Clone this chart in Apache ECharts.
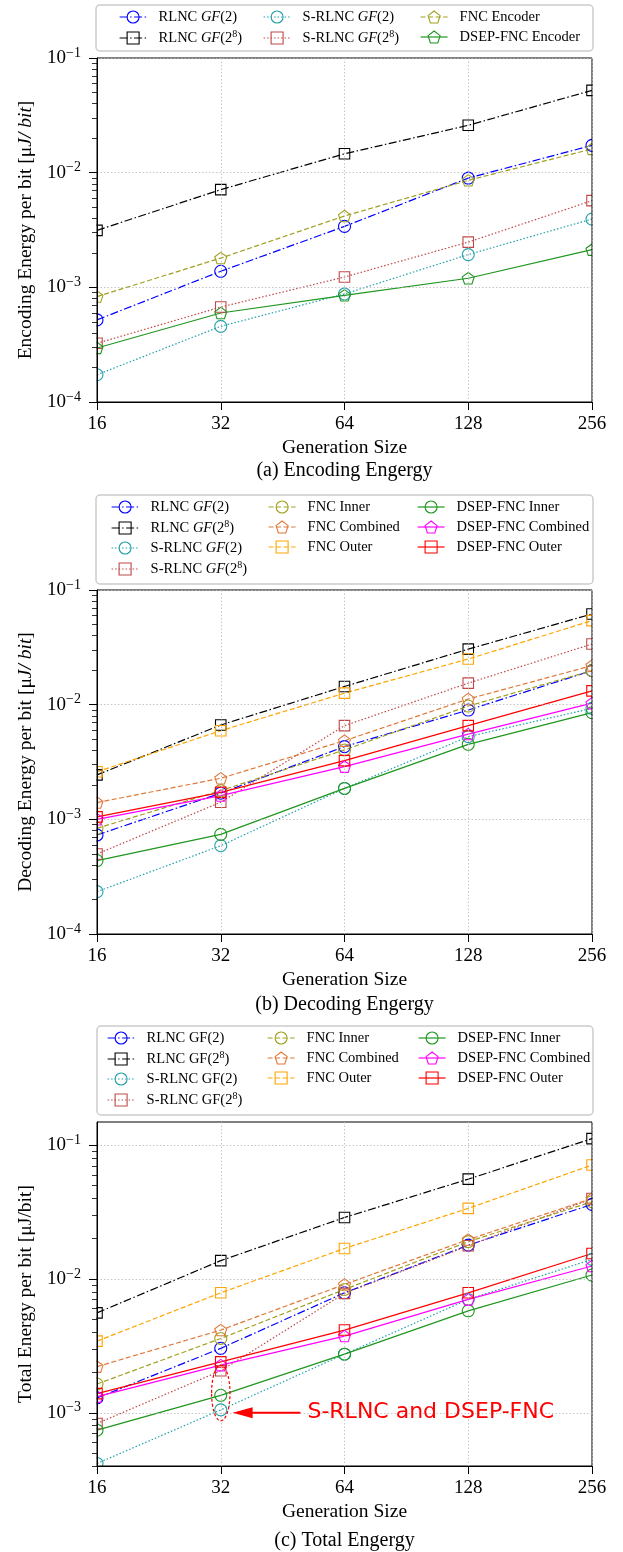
<!DOCTYPE html>
<html>
<head>
<meta charset="utf-8">
<title>Energy per bit</title>
<script src="https://cdn.jsdelivr.net/npm/echarts@6/dist/echarts.min.js"></script>
<style>
  html, body { margin: 0; padding: 0; background: #fff; }
  #chart { width: 623px; height: 1552px; }
</style>
</head>
<body>
<div id="chart"></div>
<script>
// generation sizes (x axis, log2)
const genSizes = [16, 32, 64, 128, 256];

// (a) encoding energy per bit [uJ/bit]
const encRlncGf2     = [5.2e-4, 1.38e-3, 3.40e-3, 8.97e-3, 1.73e-2];
const encRlncGf256   = [3.14e-3, 7.11e-3, 1.46e-2, 2.59e-2, 5.22e-2];
const encSRlncGf2    = [1.73e-4, 4.57e-4, 8.75e-4, 1.93e-3, 3.94e-3];
const encSRlncGf256  = [3.25e-4, 6.73e-4, 1.23e-3, 2.48e-3, 5.70e-3];
const encFnc         = [8.3e-4, 1.80e-3, 4.19e-3, 8.57e-3, 1.61e-2];
const encDsepFnc     = [2.96e-4, 5.97e-4, 8.51e-4, 1.20e-3, 2.13e-3];

// (b) decoding energy per bit
const decRlncGf2      = [7.3e-4, 1.69e-3, 4.31e-3, 8.98e-3, 1.98e-2];
const decRlncGf256    = [2.44e-3, 6.65e-3, 1.44e-2, 3.05e-2, 6.18e-2];
const decSRlncGf2     = [2.34e-4, 5.89e-4, 1.86e-3, 5.26e-3, 9.29e-3];
const decSRlncGf256   = [4.99e-4, 1.41e-3, 6.56e-3, 1.54e-2, 3.38e-2];
const decFncInner     = [8.35e-4, 1.78e-3, 4.03e-3, 9.73e-3, 1.98e-2];
const decFncCombined  = [1.40e-3, 2.28e-3, 4.85e-3, 1.12e-2, 2.19e-2];
const decFncOuter     = [2.60e-3, 5.93e-3, 1.26e-2, 2.50e-2, 5.41e-2];
const decDsepInner    = [4.37e-4, 7.40e-4, 1.86e-3, 4.51e-3, 8.51e-3];
const decDsepCombined = [1.00e-3, 1.61e-3, 2.88e-3, 5.54e-3, 1.03e-2];
const decDsepOuter    = [1.05e-3, 1.72e-3, 3.25e-3, 6.56e-3, 1.32e-2];

// (c) total energy per bit
const totRlncGf2      = [1.29e-3, 3.03e-3, 7.88e-3, 1.79e-2, 3.61e-2];
const totRlncGf256    = [5.58e-3, 1.37e-2, 2.88e-2, 5.57e-2, 0.112];
const totSRlncGf2     = [4.18e-4, 1.05e-3, 2.74e-3, 7.03e-3, 1.40e-2];
const totSRlncGf256   = [8.32e-4, 2.06e-3, 7.80e-3, 1.77e-2, 3.99e-2];
const totFncInner     = [1.64e-3, 3.59e-3, 8.35e-3, 1.90e-2, 3.78e-2];
const totFncCombined  = [2.21e-3, 4.15e-3, 9.10e-3, 1.97e-2, 3.99e-2];
const totFncOuter     = [3.43e-3, 7.88e-3, 1.69e-2, 3.37e-2, 7.10e-2];
const totDsepInner    = [7.41e-4, 1.35e-3, 2.74e-3, 5.78e-3, 1.07e-2];
const totDsepCombined = [1.32e-3, 2.27e-3, 3.74e-3, 7.03e-3, 1.25e-2];
const totDsepOuter    = [1.39e-3, 2.40e-3, 4.15e-3, 7.88e-3, 1.55e-2];

// y ranges and decade ticks
const yRangeA = [1e-4, 1e-1];
const yRangeB = [1e-4, 1e-1];
const yRangeC = [4.0e-4, 0.149];
const decadesAB = [1e-4, 1e-3, 1e-2, 1e-1];
const decadesC = [1e-3, 1e-2, 1e-1];

// annotation in (c)
const noteEllipseX = [30.4, 33.7];
const noteEllipseY = [8.7e-4, 2.27e-3];
const noteArrowX = [50, 34.2];
const noteArrowY = 1e-3;
const noteTextX = 52;
const noteText = 'S-RLNC and DSEP-FNC';

const SERIF = '"Liberation Serif", "DejaVu Serif", serif';
const PENTAGON = 'path://M0,-1L0.951,-0.309L0.588,0.809L-0.588,0.809L-0.951,-0.309Z';
const DASHDOT = [8, 2.5, 1.5, 2.5];
const DASHED = [5, 2.5];
const DOTTED = [1.5, 2];

const OLIVE = '#a0a020';
const GREEN = '#1f961f';

const look = {
  'RLNC GF(2)':        { color: '#0000ff', dash: DASHDOT, symbol: 'circle', size: 12 },
  'RLNC GF(2^8)':      { color: '#000000', dash: DASHDOT, symbol: 'rect', size: 10.5 },
  'S-RLNC GF(2)':      { color: '#20a0a8', dash: DOTTED, symbol: 'circle', size: 12 },
  'S-RLNC GF(2^8)':    { color: '#c04848', dash: DOTTED, symbol: 'rect', size: 10.5 },
  'FNC Encoder':       { color: OLIVE, dash: DASHED, symbol: PENTAGON, size: 12 },
  'DSEP-FNC Encoder':  { color: GREEN, dash: 'solid', symbol: PENTAGON, size: 12 },
  'FNC Inner':         { color: OLIVE, dash: DASHED, symbol: 'circle', size: 12 },
  'FNC Combined':      { color: '#e07838', dash: DASHED, symbol: PENTAGON, size: 12 },
  'FNC Outer':         { color: '#ffa500', dash: DASHED, symbol: 'rect', size: 10.5 },
  'DSEP-FNC Inner':    { color: GREEN, dash: 'solid', symbol: 'circle', size: 12 },
  'DSEP-FNC Combined': { color: '#ff00ff', dash: 'solid', symbol: PENTAGON, size: 12 },
  'DSEP-FNC Outer':    { color: '#ff0000', dash: 'solid', symbol: 'rect', size: 10.5 }
};

const gridLine = { color: '#b8b8b8', width: 0.8, type: [1.5, 2] };

// plot boxes (pixels)
const boxes = [
  { left: 97, width: 495, top: 58, height: 344 },
  { left: 97, width: 495, top: 590, height: 344 },
  { left: 97, width: 495, top: 1122, height: 344 }
];

function minorTicks(range) {
  const out = [];
  for (let e = Math.floor(Math.log10(range[0])); e < Math.ceil(Math.log10(range[1])); e++) {
    for (let m = 2; m <= 9; m++) {
      const v = m * Math.pow(10, e);
      if (v >= range[0] && v <= range[1]) out.push(v);
    }
  }
  return out;
}

function powLabel(v) {
  const e = Math.round(Math.log10(v));
  return '10{sup|\u2212' + Math.abs(e) + '}';
}

function legendText(name, italic) {
  let s = name.split('/')[1].replace('^8', '{sup|8}');
  if (italic) s = s.replace('GF', '{it|GF}');
  return s;
}

function makeSeries(panel, idx, name, values) {
  const st = look[name];
  return {
    name: panel + '/' + name,
    type: 'line',
    xAxisIndex: idx,
    yAxisIndex: idx * 2,
    data: genSizes.map((g, i) => [g, values[i]]),
    symbol: st.symbol,
    symbolSize: st.size,
    symbolKeepAspect: true,
    showAllSymbol: true,
    z: 2,
    lineStyle: { color: st.color, width: 1.2, type: st.dash },
    itemStyle: { color: 'transparent', borderColor: st.color, borderWidth: 1.1 },
    emphasis: { disabled: true }
  };
}

function makeLegend(panel, names, left, top, italic) {
  return {
    data: names.map(n => panel + '/' + n),
    orient: 'vertical',
    left: left,
    top: top,
    padding: 0,
    itemGap: 5,
    itemWidth: 27,
    itemHeight: 15,
    selectedMode: false,
    itemStyle: { borderWidth: 1.1 },
    lineStyle: { width: 1.2 },
    formatter: n => legendText(n, italic),
    textStyle: {
      fontFamily: SERIF, fontSize: 14.5, color: '#000', padding: [0, 0, 0, 7],
      rich: {
        it: { fontFamily: SERIF, fontSize: 14.5, fontStyle: 'italic', color: '#000' },
        sup: { fontFamily: SERIF, fontSize: 10, color: '#000', padding: [0, 0, 7, 0] }
      }
    }
  };
}

function makeXAxis(idx) {
  return {
    type: 'log', logBase: 2, gridIndex: idx, min: 16, max: 256, z: 4,
    name: 'Generation Size', nameLocation: 'middle', nameGap: 36,
    nameTextStyle: { fontFamily: SERIF, fontSize: 19.5, color: '#000' },
    axisLine: { show: true, lineStyle: { color: '#000', width: 1 } },
    axisTick: { show: true, inside: false, length: 8, lineStyle: { color: '#000', width: 1 } },
    axisLabel: { margin: 13, color: '#000', fontFamily: SERIF, fontSize: 19, formatter: v => String(Math.round(v)) },
    splitLine: { show: true, lineStyle: gridLine },
    minorTick: { show: false }
  };
}

function makeYAxes(idx, range, decades, name) {
  const main = {
    type: 'log', logBase: 10, gridIndex: idx, position: 'left', z: 4,
    min: range[0], max: range[1],
    name: name, nameLocation: 'middle', nameGap: 58,
    nameTextStyle: {
      fontFamily: SERIF, fontSize: 19.5, color: '#000',
      rich: { it: { fontFamily: SERIF, fontSize: 19.5, fontStyle: 'italic', color: '#000' } }
    },
    axisLine: { show: true, lineStyle: { color: '#000', width: 1 } },
    axisTick: { show: true, inside: false, length: 8, customValues: decades, lineStyle: { color: '#000', width: 1 } },
    axisLabel: {
      customValues: decades, margin: 16, color: '#000', fontFamily: SERIF, fontSize: 19,
      formatter: powLabel,
      rich: { sup: { fontFamily: SERIF, fontSize: 14, color: '#000', padding: [0, 0, 10, 0] } }
    },
    splitLine: { show: true, lineStyle: gridLine },
    minorTick: { show: false }
  };
  const minor = {
    type: 'log', logBase: 10, gridIndex: idx, position: 'left', offset: 0, z: 4,
    min: range[0], max: range[1],
    axisLine: { show: false },
    axisTick: { show: true, inside: false, length: 5, customValues: minorTicks(range), lineStyle: { color: '#000', width: 0.8 } },
    axisLabel: { show: false },
    splitLine: { show: false }
  };
  return [main, minor];
}

const grids = boxes.map(b => Object.assign({ show: true, z: 4, borderColor: '#000', borderWidth: 1, backgroundColor: 'transparent' }, b));

const series = [
  makeSeries('a', 0, 'RLNC GF(2)', encRlncGf2),
  makeSeries('a', 0, 'RLNC GF(2^8)', encRlncGf256),
  makeSeries('a', 0, 'S-RLNC GF(2)', encSRlncGf2),
  makeSeries('a', 0, 'S-RLNC GF(2^8)', encSRlncGf256),
  makeSeries('a', 0, 'FNC Encoder', encFnc),
  makeSeries('a', 0, 'DSEP-FNC Encoder', encDsepFnc),

  makeSeries('b', 1, 'RLNC GF(2)', decRlncGf2),
  makeSeries('b', 1, 'RLNC GF(2^8)', decRlncGf256),
  makeSeries('b', 1, 'S-RLNC GF(2)', decSRlncGf2),
  makeSeries('b', 1, 'S-RLNC GF(2^8)', decSRlncGf256),
  makeSeries('b', 1, 'FNC Inner', decFncInner),
  makeSeries('b', 1, 'FNC Combined', decFncCombined),
  makeSeries('b', 1, 'FNC Outer', decFncOuter),
  makeSeries('b', 1, 'DSEP-FNC Inner', decDsepInner),
  makeSeries('b', 1, 'DSEP-FNC Combined', decDsepCombined),
  makeSeries('b', 1, 'DSEP-FNC Outer', decDsepOuter),

  makeSeries('c', 2, 'RLNC GF(2)', totRlncGf2),
  makeSeries('c', 2, 'RLNC GF(2^8)', totRlncGf256),
  makeSeries('c', 2, 'S-RLNC GF(2)', totSRlncGf2),
  makeSeries('c', 2, 'S-RLNC GF(2^8)', totSRlncGf256),
  makeSeries('c', 2, 'FNC Inner', totFncInner),
  makeSeries('c', 2, 'FNC Combined', totFncCombined),
  makeSeries('c', 2, 'FNC Outer', totFncOuter),
  makeSeries('c', 2, 'DSEP-FNC Inner', totDsepInner),
  makeSeries('c', 2, 'DSEP-FNC Combined', totDsepCombined),
  makeSeries('c', 2, 'DSEP-FNC Outer', totDsepOuter),

  {
    type: 'custom',
    name: 'note',
    xAxisIndex: 2,
    yAxisIndex: 4,
    z: 5,
    data: [[32, noteArrowY]],
    silent: true,
    renderItem: (params, api) => {
      const lo = api.coord([noteEllipseX[0], noteEllipseY[0]]);
      const hi = api.coord([noteEllipseX[1], noteEllipseY[1]]);
      const tail = api.coord([noteArrowX[0], noteArrowY]);
      const head = api.coord([noteArrowX[1], noteArrowY]);
      const txt = api.coord([noteTextX, noteArrowY]);
      return {
        type: 'group',
        children: [
          {
            type: 'ellipse',
            shape: { cx: (lo[0] + hi[0]) / 2, cy: (lo[1] + hi[1]) / 2, rx: (hi[0] - lo[0]) / 2, ry: (lo[1] - hi[1]) / 2 },
            style: { fill: 'none', stroke: '#ff0000', lineWidth: 1.2, lineDash: [3, 2] }
          },
          {
            type: 'line',
            shape: { x1: tail[0], y1: tail[1], x2: head[0] + 16, y2: head[1] },
            style: { stroke: '#ff0000', lineWidth: 2 }
          },
          {
            type: 'polygon',
            shape: { points: [[head[0], head[1]], [head[0] + 20, head[1] - 5.5], [head[0] + 20, head[1] + 5.5]] },
            style: { fill: '#ff0000' }
          },
          {
            type: 'text', x: txt[0], y: txt[1],
            style: { text: noteText, fill: '#ff0000', font: '22px "DejaVu Sans"', textVerticalAlign: 'middle' }
          }
        ]
      };
    }
  }
];

function frame(x, y, w, h) {
  return {
    type: 'rect', z: 1,
    shape: { x: x, y: y, width: w, height: h, r: 4 },
    style: { fill: '#fff', stroke: '#cccccc', lineWidth: 1.5 }
  };
}

function caption(text, y) {
  return {
    type: 'text', x: 344.5, y: y, z: 1,
    style: { text: text, font: '20px ' + SERIF, fill: '#000', textAlign: 'center', textVerticalAlign: 'middle' }
  };
}

// white strips left, right and below each plot box so edge markers are cut at the frame
function masks(b) {
  const pad = 8;
  const style = { fill: '#fff' };
  return [
    { type: 'rect', z: 3, silent: true, shape: { x: b.left - pad, y: b.top, width: pad - 0.5, height: b.height + pad }, style },
    { type: 'rect', z: 3, silent: true, shape: { x: b.left + b.width + 0.5, y: b.top, width: pad, height: b.height + pad }, style },
    { type: 'rect', z: 3, silent: true, shape: { x: b.left, y: b.top + b.height + 0.5, width: b.width, height: pad }, style }
  ];
}

const option = {
  animation: false,
  backgroundColor: '#fff',
  grid: grids,
  xAxis: [makeXAxis(0), makeXAxis(1), makeXAxis(2)],
  yAxis: [].concat(
    makeYAxes(0, yRangeA, decadesAB, 'Encoding Energy per bit [\u03bc{it|J/ bit}]'),
    makeYAxes(1, yRangeB, decadesAB, 'Decoding Energy per bit [\u03bc{it|J/ bit}]'),
    makeYAxes(2, yRangeC, decadesC, 'Total Energy per bit [\u03bcJ/bit]')
  ),
  legend: [
    makeLegend('a', ['RLNC GF(2)', 'RLNC GF(2^8)'], 119, 9.5, true),
    makeLegend('a', ['S-RLNC GF(2)', 'S-RLNC GF(2^8)'], 263, 9.5, true),
    makeLegend('a', ['FNC Encoder', 'DSEP-FNC Encoder'], 420, 9.5, true),
    makeLegend('b', ['RLNC GF(2)', 'RLNC GF(2^8)', 'S-RLNC GF(2)', 'S-RLNC GF(2^8)'], 111, 499.5, true),
    makeLegend('b', ['FNC Inner', 'FNC Combined', 'FNC Outer'], 268, 499.5, true),
    makeLegend('b', ['DSEP-FNC Inner', 'DSEP-FNC Combined', 'DSEP-FNC Outer'], 417, 499.5, true),
    makeLegend('c', ['RLNC GF(2)', 'RLNC GF(2^8)', 'S-RLNC GF(2)', 'S-RLNC GF(2^8)'], 107, 1030.5, false),
    makeLegend('c', ['FNC Inner', 'FNC Combined', 'FNC Outer'], 267, 1030.5, false),
    makeLegend('c', ['DSEP-FNC Inner', 'DSEP-FNC Combined', 'DSEP-FNC Outer'], 418, 1030.5, false)
  ],
  graphic: [].concat(
    masks(boxes[0]), masks(boxes[1]), masks(boxes[2]),
    [
      frame(96, 5, 497, 46),
      frame(96, 495, 497, 89),
      frame(97, 1026, 496, 89),
      caption('(a) Encoding Engergy', 471),
      caption('(b) Decoding Engergy', 1005),
      caption('(c) Total Engergy', 1541)
    ]
  ),
  series: series
};

const chart = echarts.init(document.getElementById('chart'));
chart.setOption(option);
</script>
</body>
</html>
